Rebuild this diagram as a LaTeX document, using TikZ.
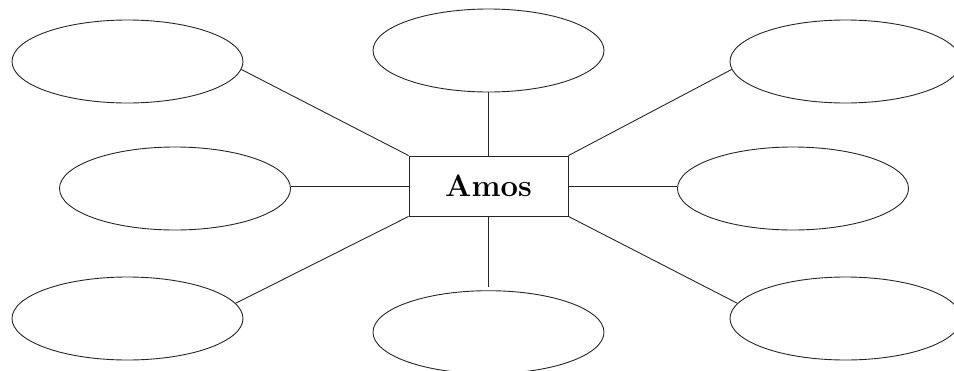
\documentclass[tikz,border=0pt]{standalone}
\usetikzlibrary{shapes.geometric}
\tikzset{
  bubble/.style={ellipse, draw=black!85, line width=0.9pt, minimum width=231pt, minimum height=83pt, inner sep=0pt},
  centerbox/.style={rectangle, draw=black!85, line width=0.9pt, minimum width=159pt, minimum height=60pt, inner sep=0pt, font=\fontsize{31}{31}\selectfont\bfseries},
  link/.style={draw=black!85, line width=0.9pt}
}
\begin{document}
\begin{tikzpicture}[x=1pt, y=-1pt]
  \useasboundingbox (0,0) rectangle (954,370);
  \node[centerbox] (box) at (488.5,186) {Amos};
  \node[bubble] (tl) at (127.5,61.5) {};
  \node[bubble] (tc) at (488.5,50.5) {};
  \node[bubble] (tr) at (845.5,61.5) {};
  \node[bubble] (ml) at (175,188.5) {};
  \node[bubble] (mr) at (793,188.5) {};
  \node[bubble] (bl) at (127.5,318.5) {};
  \node[bubble] (bc) at (488.5,332.2) {};
  \node[bubble] (br) at (845.5,318.5) {};
  \coordinate (bcend) at (488.5,287);
  \draw[link] (box.north west) -- (tl.-4);
  \draw[link] (box.north) -- (tc.south);
  \draw[link] (box.north east) -- (tr.184);
  \draw[link] (box.west) -- (box.west -| ml.east);
  \draw[link] (box.east) -- (box.east -| mr.west);
  \draw[link] (box.south west) -- (bl.8);
  \draw[link] (box.south) -- (bcend);
  \draw[link] (box.south east) -- (br.172);
\end{tikzpicture}
\end{document}
